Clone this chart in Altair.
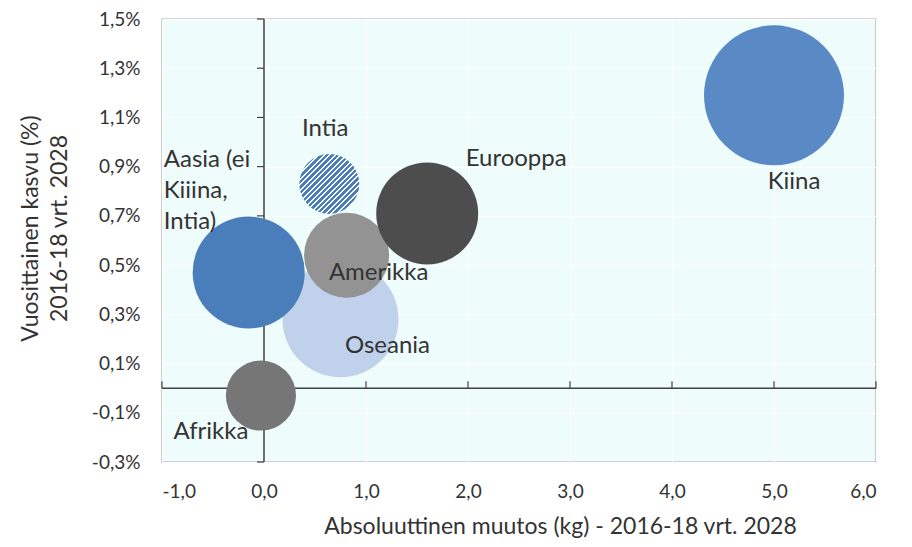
import altair as alt
import pandas as pd

# ---- data ----
alueet = ["Oseania", "Afrikka", "Amerikka", "Intia", "Aasia (ei Kiiina, Intia)", "Eurooppa", "Kiina"]
muutos_kg = [0.75, -0.03, 0.81, 0.64, -0.15, 1.60, 5.00]          # x: absolute change (kg)
kasvu = [0.0028, -0.0003, 0.0054, 0.0083, 0.0047, 0.0071, 0.0119]  # y: annual growth
koko = [33.6, 12.3, 18.1, 9.0, 31.4, 26.0, 49.0]                   # bubble size
nimiot = ["Oseania", "Afrikka", "Amerikka", "Intia", "Aasia (ei\nKiiina,\nIntia)", "Eurooppa", "Kiina"]

x_ticks = [-1, 0, 1, 2, 3, 4, 5, 6]
y_ticks = [-0.003, -0.001, 0.001, 0.003, 0.005, 0.007, 0.009, 0.011, 0.013, 0.015]

# ---- styles ----
fill_colors = {
    "Oseania": "#c0d1eb",
    "Afrikka": "#767676",
    "Amerikka": "#939393",
    "Intia": "#8fb0dc",
    "Aasia (ei Kiiina, Intia)": "#4a7ebb",
    "Eurooppa": "#4d4d4d",
    "Kiina": "#5a8ac6",
}
label_style = {  # dx, dy, align
    "Oseania": (47, 27, "center"),
    "Afrikka": (-50, 36, "center"),
    "Amerikka": (32, 18, "center"),
    "Intia": (-4, -55, "center"),
    "Aasia (ei Kiiina, Intia)": (-85, -112, "left"),
    "Eurooppa": (89, -54, "center"),
    "Kiina": (20, 87, "center"),
}
FONT = "Lato"
TEXT = "#333333"
AXIS_LINE = "#404040"

df = pd.DataFrame({"alue": alueet, "x": muutos_kg, "y": kasvu, "koko": koko, "nimio": nimiot})
df["vari"] = df["alue"].map(fill_colors)

x_scale = alt.Scale(domain=[-1, 6], nice=False, zero=False)
y_scale = alt.Scale(domain=[-0.003, 0.015], nice=False, zero=False)
size_scale = alt.Scale(domain=[0, 49], range=[0, 19600], zero=True)

x_axis = alt.Axis(
    values=x_ticks,
    labelExpr="replace(replace(format(datum.value, '.1f'), '.', ','), '\u2212', '-')",
    title="Absoluuttinen muutos (kg) - 2016-18 vrt. 2028",
    domain=False, ticks=False, tickSize=0, labelPadding=20,
    grid=True, gridColor="white", gridWidth=1,
    labelFont=FONT, labelFontSize=19, labelColor=TEXT,
    titleFont=FONT, titleFontSize=23, titleFontWeight="normal", titleColor=TEXT,
    titleX=398, titleY=64, titleBaseline="middle", titleAnchor="middle", titleAlign="center",
)
y_axis = alt.Axis(
    values=y_ticks,
    labelExpr="replace(replace(format(datum.value, '.1%'), '.', ','), '\u2212', '-')",
    title=["Vuosittainen kasvu (%)", "2016-18 vrt. 2028"],
    domain=False, ticks=False, tickSize=0, labelPadding=22,
    grid=True, gridColor="white", gridWidth=1,
    labelFont=FONT, labelFontSize=19, labelColor=TEXT,
    titleFont=FONT, titleFontSize=23, titleFontWeight="normal", titleColor=TEXT,
    titleX=-143, titleY=209, titleAngle=-90, titleBaseline="top", titleLineHeight=29,
    titleAlign="center", titleAnchor="middle",
)

X = alt.X("x:Q", scale=x_scale, axis=x_axis)
Y = alt.Y("y:Q", scale=y_scale, axis=y_axis)

# axis lines crossing at zero
vline = alt.Chart(pd.DataFrame({"x": [0]})).mark_rule(color=AXIS_LINE, strokeWidth=1.5).encode(x=X)
hline = alt.Chart(pd.DataFrame({"y": [0]})).mark_rule(color=AXIS_LINE, strokeWidth=1.5).encode(y=Y)

yt = pd.DataFrame({"x": [0] * len(y_ticks), "y": y_ticks})
ytick_marks = alt.Chart(yt).mark_rule(color=AXIS_LINE, strokeWidth=1.2, x2Offset=-7).encode(
    x=X, x2=alt.X2("x"), y=Y
)
xt = pd.DataFrame({"x": x_ticks, "y": [0] * len(x_ticks)})
xtick_marks = alt.Chart(xt).mark_rule(color=AXIS_LINE, strokeWidth=1.2, y2Offset=-7).encode(
    x=X, y=Y, y2=alt.Y2("y")
)

base = alt.Chart(df)
bubbles = base.transform_filter(alt.datum.alue != "Intia").mark_circle(opacity=1).encode(
    x=X, y=Y,
    size=alt.Size("koko:Q", scale=size_scale, legend=None),
    color=alt.Color("vari:N", scale=None),
)

# striped fill for Intia
stops = []
n = 22
for i in range(n):
    a, b, c = i / n, (i + 0.62) / n, (i + 1) / n
    stops += [
        {"offset": a, "color": "#4a7ebb"},
        {"offset": b, "color": "#4a7ebb"},
        {"offset": b, "color": "#ffffff"},
        {"offset": c, "color": "#ffffff"},
    ]
stripe = alt.LinearGradient(gradient="linear", stops=stops, x1=0, y1=0, x2=1, y2=1)
intia = base.transform_filter(alt.datum.alue == "Intia").mark_circle(opacity=1, fill=stripe).encode(
    x=X, y=Y, size=alt.Size("koko:Q", scale=size_scale, legend=None)
)

labels = []
for alue, (dx, dy, align) in label_style.items():
    labels.append(
        base.transform_filter(alt.datum.alue == alue)
        .mark_text(dx=dx, dy=dy, align=align, baseline="middle", font=FONT, fontSize=24,
                   color=TEXT, lineBreak="\n", lineHeight=31)
        .encode(x=X, y=Y, text="nimio:N")
    )

chart = alt.layer(vline, hline, ytick_marks, xtick_marks, bubbles, intia, *labels).properties(
    width=714, height=443,
    autosize=alt.AutoSizeParams(type="none"),
    padding={"left": 154, "top": 11, "right": 20, "bottom": 77},
    background="white",
).configure_view(fill="#effcfc", stroke="#5a5a5a", strokeWidth=1.2)

chart.save("out.html", embed_options={"renderer": "svg", "actions": False})
